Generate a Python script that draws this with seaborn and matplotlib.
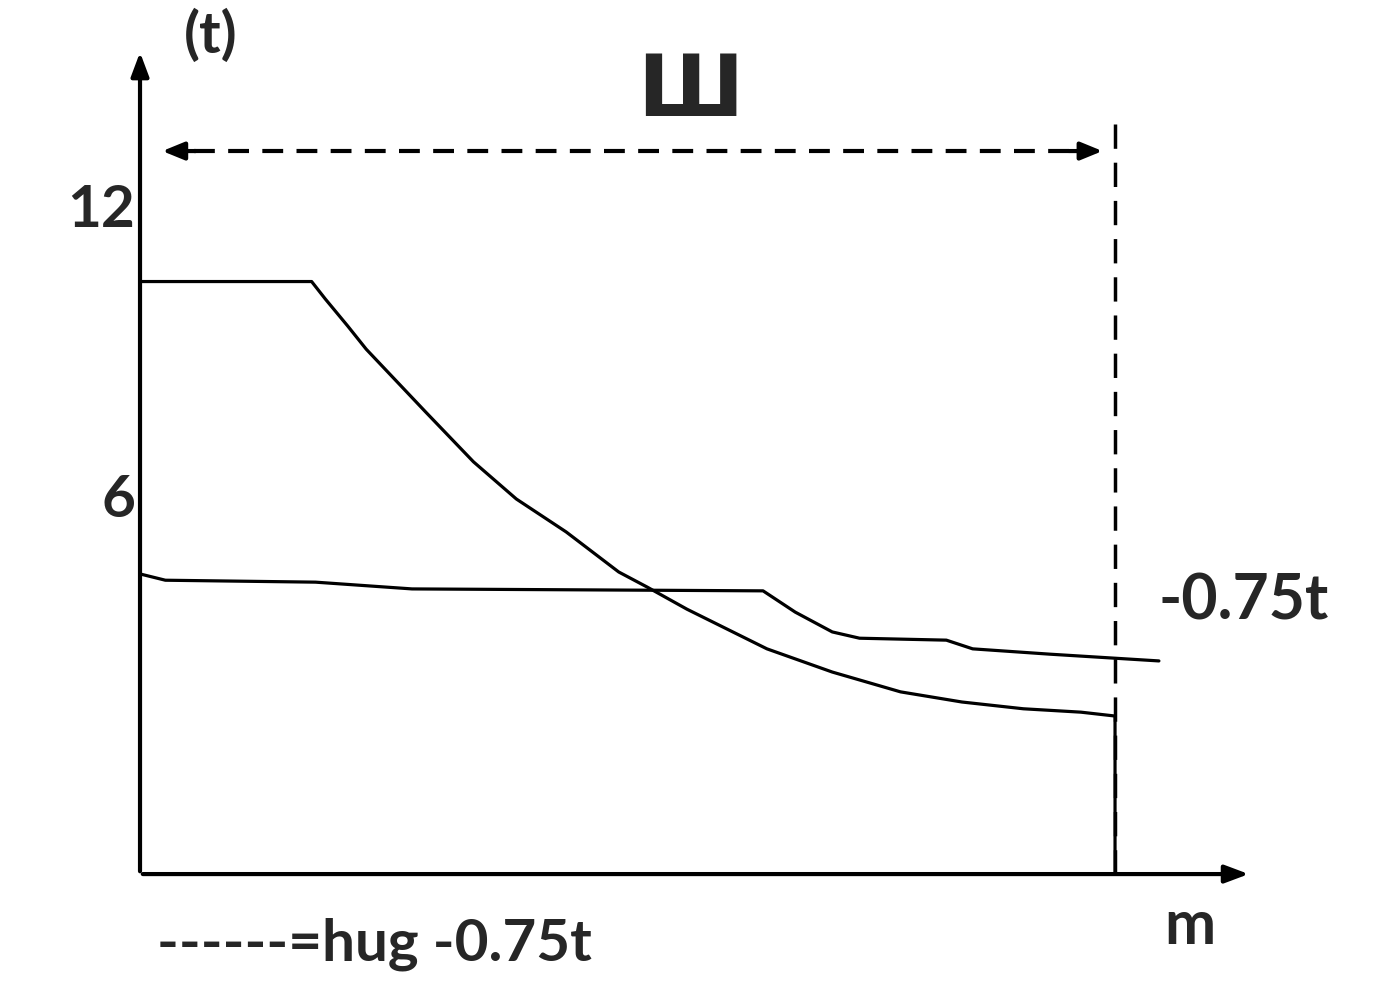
import seaborn as sns
import matplotlib.pyplot as plt
import pandas as pd

# upper curve (t against m), ends with a drop to the m axis
upper_m = [0, 1.76, 1.90, 2.13, 2.32, 2.93, 3.42, 3.86, 4.37, 4.91, 5.20, 5.61,
           6.43, 7.10, 7.80, 8.43, 9.06, 9.65, 10.0, 10.0]
upper_t = [10.5, 10.5, 10.14, 9.58, 9.10, 7.80, 6.77, 6.00, 5.32, 4.49, 4.18, 3.72,
           2.90, 2.42, 2.01, 1.80, 1.66, 1.59, 1.51, -1.76]

# lower curve (-0.75t)
lower_m = [0, 0.26, 1.80, 2.79, 6.39, 6.72, 7.10, 7.38, 8.27, 8.54, 9.33, 10.45]
lower_t = [4.45, 4.32, 4.28, 4.14, 4.10, 3.66, 3.25, 3.12, 3.08, 2.90, 2.79, 2.65]

y_ticks = [6, 12]
y_tick_labels = ['6', '12']

sns.set_theme(style='white')
plt.rcParams['font.family'] = ['Lato', 'DejaVu Sans']

fig = plt.figure(figsize=(13.74, 9.87), dpi=100)
ax = fig.add_axes([0, 0, 1, 1])
ax.set_xlim(-1.436, 12.656)
ax.set_ylim(-4.076, 16.346)
ax.axis('off')

df_up = pd.DataFrame({'m': upper_m, 't': upper_t})
df_lo = pd.DataFrame({'m': lower_m, 't': lower_t})
sns.lineplot(data=df_up, x='m', y='t', sort=False, estimator=None, color='black', lw=2.3, ax=ax)
sns.lineplot(data=df_lo, x='m', y='t', sort=False, estimator=None, color='black', lw=2.3, ax=ax)

y0 = -1.76
# axes with arrows
ax.annotate('', xy=(0, 15.3), xytext=(0, y0),
            arrowprops=dict(arrowstyle='-|>,head_length=1.2,head_width=0.45', color='black', lw=3))
ax.annotate('', xy=(11.4, y0), xytext=(0, y0),
            arrowprops=dict(arrowstyle='-|>,head_length=1.2,head_width=0.45', color='black', lw=3))

# dashed span arrow and vertical dashed line
ax.plot([0.55, 9.55], [13.2, 13.2], color='black', lw=3, ls=(0, (5, 3.2)))
ax.annotate('', xy=(0.2, 13.2), xytext=(0.6, 13.2),
            arrowprops=dict(arrowstyle='-|>,head_length=1.1,head_width=0.45', color='black', lw=3))
ax.annotate('', xy=(9.9, 13.2), xytext=(9.5, 13.2),
            arrowprops=dict(arrowstyle='-|>,head_length=1.1,head_width=0.45', color='black', lw=3))
ax.plot([10, 10], [13.76, y0], color='black', lw=2.5, ls=(0, (7, 4)))

# tick labels
for v, lab in zip(y_ticks, y_tick_labels):
    ax.text(-0.05, v, lab, ha='right', va='center', fontsize=42, fontweight='bold')

ax.text(0.72, 15.6, '(t)', ha='center', va='center', fontsize=42, fontweight='bold')
ax.text(5.64, 14.43, 'Ш', ha='center', va='center', fontsize=62, fontweight='bold',
        family=['DejaVu Sans'])
ax.text(10.45, 3.9, '-0.75t', ha='left', va='center', fontsize=45, fontweight='bold')
ax.text(10.77, -2.82, 'm', ha='center', va='center', fontsize=44, fontweight='bold')
ax.text(2.4, -3.2, '------=hug -0.75t', ha='center', va='center', fontsize=42, fontweight='bold')

plt.savefig('out.png', dpi=100)
